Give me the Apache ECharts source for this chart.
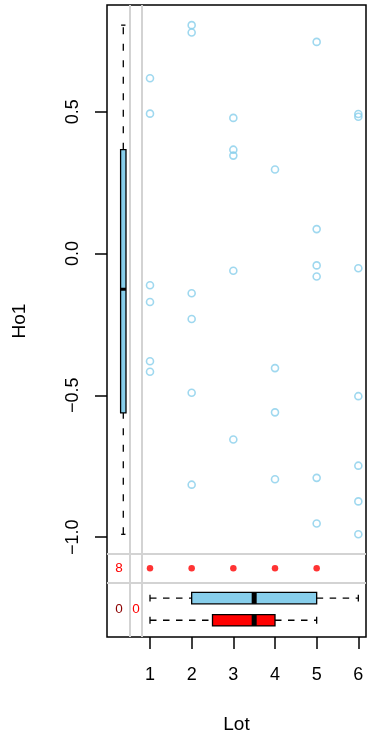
<!DOCTYPE html>
<html><head><meta charset="utf-8">
<script src="https://cdn.jsdelivr.net/npm/echarts@6/dist/echarts.min.js"></script>
<style>html,body{margin:0;padding:0;background:#fff}#c{width:367px;height:745px}</style>
</head><body><div id="c"></div>
<script>
// observed points
const lot = [1,1,1,1,1,1, 2,2,2,2,2,2, 3,3,3,3,3, 4,4,4,4, 5,5,5,5,5,5, 6,6,6,6,6,6,6];
const ho1 = [0.618,0.493,-0.112,-0.171,-0.380,-0.417,
             0.805,0.779,-0.140,-0.231,-0.491,-0.815,
             0.478,0.366,0.345,-0.061,-0.656,
             0.296,-0.404,-0.560,-0.796,
             0.746,0.086,-0.042,-0.081,-0.791,-0.952,
             0.492,0.482,-0.052,-0.503,-0.748,-0.874,-0.990];
// Lot values where Ho1 is missing (shown as red dots)
const missLots = [1,2,3,4,5];
const missCountY = '8';
const missBoth = '0';
const missCountX = '0';
// five-number summaries
const ho1Box = [-0.990,-0.562,-0.126,0.366,0.805];
const lotObsBox = [1,2,3.5,5,6];
const lotMissBox = [1,2.5,3.5,4,5];
const xTicks = [1,2,3,4,5,6];
const yTicks = [-1.0,-0.5,0.0,0.5];

// layout (axis units)
const X_MIN = -0.032, X_MAX = 6.184, Y_MIN = -1.352, Y_MAX = 0.876;
const LEFT_BOX_X = 0.359, VLINES = [0.52, 0.80];
const HLINES = [-1.059, -1.158], DOT_Y = -1.110, BLUE_BOX_Y = -1.215, RED_BOX_Y = -1.293, ZERO_Y = -1.253;
const FONT = 'Liberation Sans, Arial, Helvetica, sans-serif';

function boxRender(stats, pos, horizontal, fill, halfW) {
  return function (params, api) {
    const P = v => horizontal ? api.coord([v, pos]) : api.coord([pos, v]);
    const pts = stats.map(P);
    const c = pts[2];
    const children = [];
    const dash = {stroke:'#000', lineWidth:1.3, lineDash: horizontal ? [6.5,6.5] : [7,9.5]};
    const solid = {stroke:'#000', lineWidth:1.3};
    if (horizontal) {
      const y = c[1];
      children.push({type:'line', shape:{x1:pts[0][0],y1:y,x2:pts[1][0],y2:y}, style:dash});
      children.push({type:'line', shape:{x1:pts[3][0],y1:y,x2:pts[4][0],y2:y}, style:dash});
      children.push({type:'line', shape:{x1:pts[0][0],y1:y-halfW*0.6,x2:pts[0][0],y2:y+halfW*0.6}, style:solid});
      children.push({type:'line', shape:{x1:pts[4][0],y1:y-halfW*0.6,x2:pts[4][0],y2:y+halfW*0.6}, style:solid});
      children.push({type:'rect', shape:{x:pts[1][0],y:y-halfW,width:pts[3][0]-pts[1][0],height:2*halfW}, style:{fill:fill,stroke:'#000',lineWidth:1.3}});
      children.push({type:'rect', shape:{x:pts[2][0]-2.5,y:y-halfW,width:5,height:2*halfW}, style:{fill:'#000'}});
    } else {
      const x = c[0];
      children.push({type:'line', shape:{x1:x,y1:pts[0][1],x2:x,y2:pts[1][1]}, style:dash});
      children.push({type:'line', shape:{x1:x,y1:pts[3][1],x2:x,y2:pts[4][1]}, style:dash});
      children.push({type:'line', shape:{x1:x-halfW*0.8,y1:pts[0][1],x2:x+halfW*0.8,y2:pts[0][1]}, style:solid});
      children.push({type:'line', shape:{x1:x-halfW*0.8,y1:pts[4][1],x2:x+halfW*0.8,y2:pts[4][1]}, style:solid});
      children.push({type:'rect', shape:{x:x-halfW,y:pts[3][1],width:2*halfW,height:pts[1][1]-pts[3][1]}, style:{fill:fill,stroke:'#000',lineWidth:1.3}});
      children.push({type:'rect', shape:{x:x-halfW,y:pts[2][1]-1.5,width:2*halfW,height:3}, style:{fill:'#000'}});
    }
    return {type:'group', children};
  };
}

const texts = [
  {x:0.256, y:DOT_Y, t:missCountY, c:'#FF0000'},
  {x:0.256, y:ZERO_Y, t:missBoth, c:'#8B0000'},
  {x:0.664, y:ZERO_Y, t:missCountX, c:'#FF0000'}
];
function textRender(params, api) {
  const p = api.coord([api.value(0), api.value(1)]);
  const item = texts[params.dataIndex];
  return {type:'text', x:p[0], y:p[1], style:{text:item.t, fill:item.c, font:'13.5px ' + FONT, textAlign:'center', textVerticalAlign:'middle'}};
}

const chart = echarts.init(document.getElementById('c'), null, {renderer:'canvas'});
chart.setOption({
  animation:false,
  backgroundColor:'#fff',
  grid:{left:107, right:1, top:5, bottom:108, show:true, borderColor:'#000', borderWidth:1.5, backgroundColor:'transparent'},
  xAxis:{type:'value', min:X_MIN, max:X_MAX, name:'Lot', nameLocation:'middle', nameGap:78,
    nameTextStyle:{fontFamily:FONT, fontSize:19, color:'#000'},
    axisLine:{show:false, onZero:false}, splitLine:{show:false},
    axisTick:{show:true, length:12, customValues:xTicks, lineStyle:{color:'#000', width:1.5}},
    axisLabel:{customValues:xTicks, margin:29, fontFamily:FONT, fontSize:18, color:'#000'}},
  yAxis:{type:'value', min:Y_MIN, max:Y_MAX, name:'Ho1', nameLocation:'middle', nameGap:78, nameRotate:90,
    nameTextStyle:{fontFamily:FONT, fontSize:19, color:'#000'},
    axisLine:{show:false, onZero:false}, splitLine:{show:false},
    axisTick:{show:true, length:12, customValues:yTicks, lineStyle:{color:'#000', width:1.5}},
    axisLabel:{customValues:yTicks, rotate:90, margin:25, fontFamily:FONT, fontSize:18, color:'#000',
      formatter:v => (v < 0 ? '\u2212' : '') + Math.abs(v).toFixed(1)}},
  series:[
    {type:'scatter', silent:true, symbol:'none', data:[],
     markLine:{silent:true, symbol:'none', label:{show:false}, lineStyle:{color:'#D3D3D3', width:2, type:'solid'},
       data: VLINES.map(v => ({xAxis:v})).concat(HLINES.map(v => ({yAxis:v})))}},
    {type:'scatter', symbol:'circle', symbolSize:7,
     itemStyle:{color:'rgba(0,0,0,0)', borderColor:'#87CEEB', borderWidth:1.6},
     data: lot.map((l,i) => [l, ho1[i]])},
    {type:'scatter', symbol:'circle', symbolSize:6.5, itemStyle:{color:'#FF0000'},
     data: missLots.map(l => [l, DOT_Y])},
    {type:'custom', renderItem: boxRender(ho1Box, LEFT_BOX_X, false, '#87CEEB', 2.7), data:[[LEFT_BOX_X, ho1Box[2]]]},
    {type:'custom', renderItem: boxRender(lotObsBox, BLUE_BOX_Y, true, '#87CEEB', 5.7), data:[[lotObsBox[2], BLUE_BOX_Y]]},
    {type:'custom', renderItem: boxRender(lotMissBox, RED_BOX_Y, true, '#FF0000', 5.7), data:[[lotMissBox[2], RED_BOX_Y]]},
    {type:'custom', renderItem: textRender, data: texts.map(t => [t.x, t.y])}
  ]
});
</script></body></html>
